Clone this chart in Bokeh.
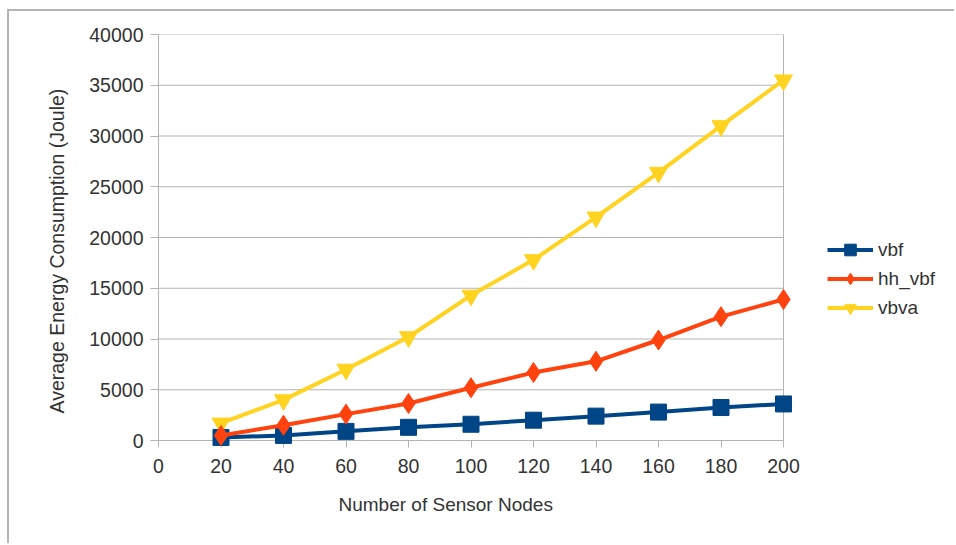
from bokeh.plotting import figure
from bokeh.models import FixedTicker, Legend, LegendItem, Range1d, Span, Title
from bokeh.embed import file_html
from bokeh.resources import INLINE

# Number of sensor nodes
nodes = [20, 40, 60, 80, 100, 120, 140, 160, 180, 200]

# Average energy consumption (Joule) per protocol
vbf = [300, 500, 900, 1300, 1600, 2000, 2400, 2800, 3250, 3600]
hh_vbf = [500, 1500, 2600, 3650, 5200, 6700, 7800, 9900, 12200, 13900]
vbva = [1700, 4000, 7000, 10200, 14300, 17800, 22000, 26400, 31000, 35500]

x_ticks = [0, 20, 40, 60, 80, 100, 120, 140, 160, 180, 200]
y_ticks = [0, 5000, 10000, 15000, 20000, 25000, 30000, 35000, 40000]

X_MAX, Y_MAX = 200, 40000

FONT = "Liberation Sans"
TEXT = "#333333"
GRID = "#b3b3b3"

# The frame runs on past the plot area so the legend can sit inside it;
# the plot area itself is x in [0, 200], drawn with its own grid and border.
W, H = 947, 534
LEFT, RIGHT, TOP, BOTTOM = 149, 6, 23, 105
AREA_PX = 625                      # width of the 0..200 plot area
frame_px = W - LEFT - RIGHT
x_end = X_MAX * frame_px / AREA_PX

p = figure(
    width=W, height=H,
    x_range=Range1d(0, x_end), y_range=Range1d(0, Y_MAX),
    output_backend="svg", toolbar_location=None,
    min_border_left=LEFT, min_border_top=TOP,
    min_border_right=RIGHT, min_border_bottom=BOTTOM,
    background_fill_color="white", border_fill_color="white",
    outline_line_color=None,
    margin=(9, 0, 0, 7),
)
p.styles = {"border-top": "2px solid #b4b4b4", "border-left": "2px solid #b4b4b4"}

# horizontal grid lines limited to the plot area, plus its right edge
p.xgrid.grid_line_color = None
p.ygrid.grid_line_color = None
p.segment(x0=[0] * len(y_ticks), y0=y_ticks, x1=[X_MAX] * len(y_ticks), y1=y_ticks,
          line_color=GRID, line_width=1)
p.add_layout(Span(location=X_MAX, dimension="height", line_color=GRID, line_width=1))

for ax in (p.xaxis, p.yaxis):
    ax.axis_line_color = GRID
    ax.major_tick_line_color = GRID
    ax.minor_tick_line_color = None
    ax.major_tick_in = 0
    ax.major_label_text_font = FONT
    ax.major_label_text_font_size = "19.5px"
    ax.major_label_text_color = TEXT

p.xaxis.bounds = (0, X_MAX)
p.xaxis.ticker = FixedTicker(ticks=x_ticks)
p.yaxis.ticker = FixedTicker(ticks=y_ticks)
p.xaxis.major_tick_out = 7
p.yaxis.major_tick_out = 8
p.xaxis.major_label_standoff = 11
p.yaxis.major_label_standoff = 7

# axis titles
p.add_layout(
    Title(text="Average Energy Consumption (Joule)", align="left", offset=27,
          text_font=FONT, text_font_size="19.5px", text_font_style="normal",
          text_color=TEXT, standoff=38),
    "left",
)
p.add_layout(
    Title(text="Number of Sensor Nodes", align="left", offset=180,
          text_font=FONT, text_font_size="19px", text_font_style="normal",
          text_color=TEXT, standoff=32),
    "below",
)

# series (yellow drawn first so the others sit on top)
c_vbf, c_hh, c_vbva = "#004586", "#ff420e", "#ffd320"

l3 = p.line(nodes, vbva, line_color=c_vbva, line_width=4, level="overlay")
m3 = p.scatter(nodes, vbva, marker="inverted_triangle", size=18,
               fill_color=c_vbva, line_color=c_vbva, level="overlay")
l1 = p.line(nodes, vbf, line_color=c_vbf, line_width=4, level="overlay")
m1 = p.scatter(nodes, vbf, marker="square", size=16,
               fill_color=c_vbf, line_color=c_vbf, level="overlay")
l2 = p.line(nodes, hh_vbf, line_color=c_hh, line_width=4, level="overlay")
m2 = p.scatter(nodes, hh_vbf, marker="diamond", size=20,
               fill_color=c_hh, line_color=c_hh, level="overlay")

legend = Legend(
    items=[
        LegendItem(label="vbf", renderers=[l1, m1]),
        LegendItem(label="hh_vbf", renderers=[l2, m2]),
        LegendItem(label="vbva", renderers=[l3, m3]),
    ],
    location=(AREA_PX + 44, 118),
    glyph_width=46, glyph_height=29, label_height=29,
    spacing=0, padding=0, margin=0, label_standoff=5,
    label_text_font=FONT, label_text_font_size="19px", label_text_color=TEXT,
    border_line_color=None, background_fill_alpha=0,
)
p.add_layout(legend, "center")

open("out.html", "w").write(file_html(p, INLINE))
